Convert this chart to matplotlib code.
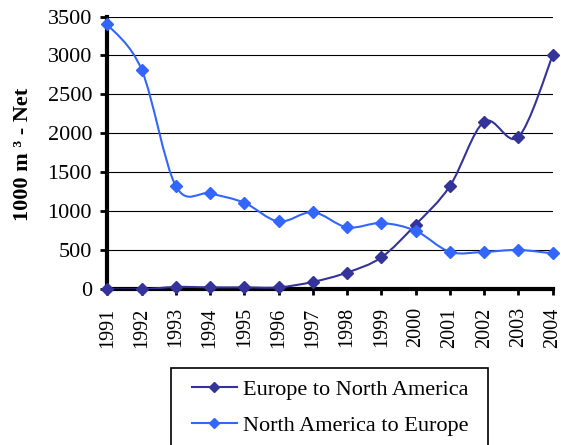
import numpy as np
import matplotlib
matplotlib.use("Agg")
import matplotlib.pyplot as plt
from matplotlib.path import Path
from matplotlib.patches import PathPatch, Rectangle
from matplotlib.lines import Line2D

years = [1991, 1992, 1993, 1994, 1995, 1996, 1997, 1998, 1999, 2000, 2001, 2002, 2003, 2004]
europe_to_na = [0, 0, 30, 25, 25, 25, 95, 215, 410, 830, 1325, 2150, 1955, 3000]
na_to_europe = [3400, 2820, 1325, 1230, 1110, 870, 990, 795, 850, 750, 480, 480, 505, 460]
series_names = ["Europe to North America", "North America to Europe"]
colors = ["#333399", "#3366FF"]
yticks = [0, 500, 1000, 1500, 2000, 2500, 3000, 3500]

plt.rcParams['font.family'] = ['Liberation Serif', 'DejaVu Serif']

W, H = 561, 445
fig = plt.figure(figsize=(W / 100, H / 100), dpi=100)
ax = fig.add_axes([107.3 / W, 1 - 289.3 / H, (552.7 - 107.3) / W, (289.3 - 16.5) / H])


def smooth_path(x, y, t=1/6):
    x = np.asarray(x, float); y = np.asarray(y, float)
    verts = [(x[0], y[0])]
    codes = [Path.MOVETO]
    n = len(x)
    for i in range(n - 1):
        x0, y0 = (x[i-1], y[i-1]) if i > 0 else (x[i], y[i])
        x3, y3 = (x[i+2], y[i+2]) if i + 2 < n else (x[i+1], y[i+1])
        c1 = (x[i] + (x[i+1] - x0) * t, y[i] + (y[i+1] - y0) * t)
        c2 = (x[i+1] - (x3 - x[i]) * t, y[i+1] - (y3 - y[i]) * t)
        verts += [c1, c2, (x[i+1], y[i+1])]
        codes += [Path.CURVE4] * 3
    return Path(verts, codes)


for vals, c in zip([europe_to_na, na_to_europe], colors):
    ax.add_patch(PathPatch(smooth_path(years, vals), facecolor='none', edgecolor=c, lw=1.5, zorder=3))
    ax.plot(years, vals, linestyle='none', marker='D', markersize=6.5, color=c, zorder=4, clip_on=False)

ax.set_xlim(1991, 2004)
ax.set_ylim(0, 3500)
ax.set_yticks(yticks)
ax.set_xticks(years)
ax.set_xticklabels([str(y) for y in years], rotation=90, fontsize=14.5)
ax.tick_params(axis='y', labelsize=16, direction='out', length=5, width=2, pad=6)
ax.tick_params(axis='x', direction='out', length=4, width=2, pad=9)
ax.grid(axis='y', color='black', lw=0.8)
ax.set_axisbelow(True)
for s in ['top', 'right']:
    ax.spines[s].set_visible(False)
for s in ['left', 'bottom']:
    ax.spines[s].set_linewidth(3)

fig.text(22.7 / W, 1 - 154 / H, "1000 m \u00b3 - Net", rotation=90, ha='center', va='center',
         fontsize=16, fontweight='bold')

# legend box
fig.patches.append(Rectangle((171 / W, -0.05), (487.7 - 171) / W, 0.05 + 1 - 368.3 / H,
                             transform=fig.transFigure, facecolor='white', edgecolor='black',
                             lw=1.2, zorder=1))
handles = [Line2D([], [], color=c, marker='D', markersize=5, lw=1.5) for c in colors]
leg = fig.legend(handles, series_names, loc='upper left', bbox_to_anchor=(191.7 / W, 1 - 379.2 / H),
                 fontsize=16, frameon=False, handlelength=2.05, handletextpad=0.25,
                 borderpad=0, borderaxespad=0, labelspacing=0.71)
leg.set_zorder(2)

fig.savefig("out.png", dpi=100)
